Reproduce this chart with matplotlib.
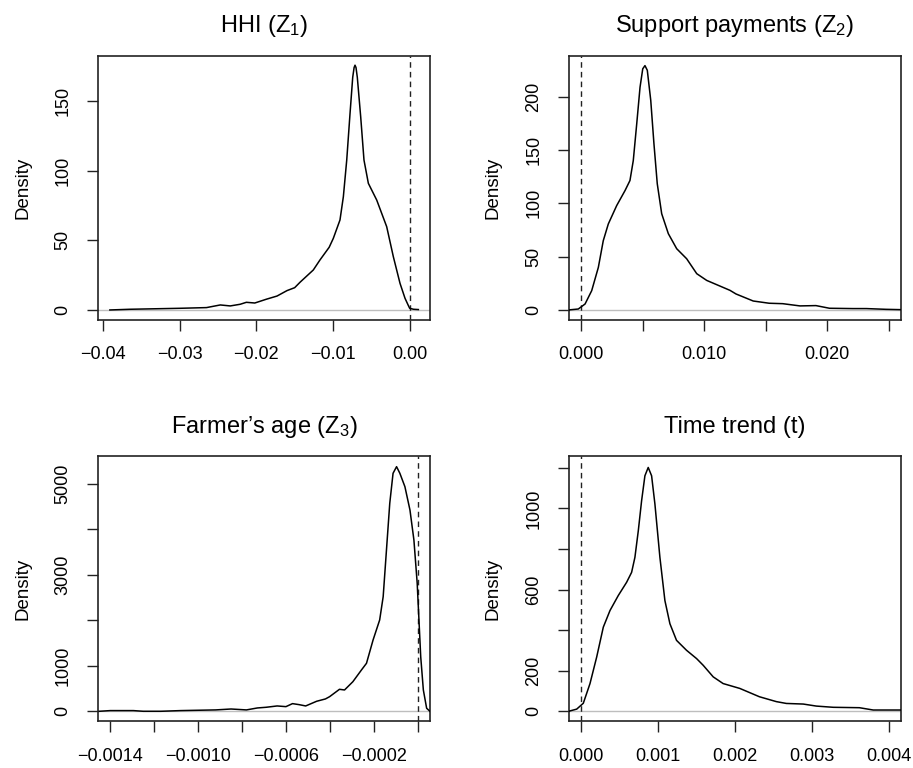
import numpy as np
import matplotlib
matplotlib.use("Agg")
import matplotlib.pyplot as plt

plt.rcParams['font.family'] = ['Liberation Sans', 'DejaVu Sans']
plt.rcParams['mathtext.fontset'] = 'custom'
plt.rcParams['mathtext.rm'] = 'Liberation Sans'
plt.rcParams['mathtext.it'] = 'Liberation Sans:italic'

# ---- data ----
titles = ["HHI (Z$_1$)", "Support payments (Z$_2$)", "Farmer\u2019s age (Z$_3$)", "Time trend (t)"]

hhi_x = [-0.0391, -0.0365, -0.0300, -0.0265, -0.0247, -0.0234, -0.0221, -0.0213, -0.0202, -0.0187,
         -0.0173, -0.0160, -0.0150, -0.0143, -0.01257, -0.0117, -0.01050, -0.00996, -0.00909, -0.00865,
         -0.00821, -0.00778, -0.00743, -0.00725, -0.00713, -0.00700, -0.00683, -0.00639, -0.00596, -0.00539,
         -0.0043, -0.0030, -0.00213, -0.00126, -0.00061, -0.00020, 0.0000, 0.00050, 0.00113]
hhi_y = [0, 0.5, 1.2, 1.7, 3.6, 2.9, 4.1, 5.5, 5.0, 7.7,
         10, 13.9, 16.0, 19.9, 28.7, 35.9, 45.0, 51.4, 64.6, 81.3,
         107.6, 141, 167, 174, 175.7, 174, 167, 138.7, 107.6, 90.9,
         78.9, 59.8, 38.2, 19.1, 8.4, 3.5, 1.2, 0.5, 0.3]

sup_x = [-0.00103, -0.00022, 0.00033, 0.00087, 0.00141, 0.00181, 0.00222, 0.0029, 0.00358, 0.00398,
         0.00425, 0.00453, 0.0048, 0.00502, 0.0052, 0.00539, 0.00567, 0.00593, 0.0062, 0.00656,
         0.0071, 0.00778, 0.00859, 0.00941, 0.01022, 0.01211, 0.0126, 0.0140,
         0.0153, 0.0164, 0.0178, 0.0191, 0.0202, 0.0221, 0.0232, 0.0248, 0.0260]
sup_y = [0, 0.9, 5.6, 18.1, 39.9, 64.9, 80.6, 97.8, 111.9, 121.3,
         140, 174.4, 208.8, 226, 229, 224.6, 196.5, 155.8, 118.3, 90.2,
         71.5, 57.4, 48, 34, 27.7, 18.4, 15, 8.4,
         6.3, 5.9, 3.8, 4.1, 1.6, 1.3, 1.3, 0.6, 0.3]

age_x = [-0.00145, -0.00140, -0.001295, -0.00125, -0.00117, -0.00108, -0.00092, -0.00085, -0.00078, -0.00073,
         -0.00069, -0.00064, -0.00060, -0.00057, -0.00054, -0.00051, -0.00046, -0.00042, -0.000401, -0.000356,
         -0.000333, -0.000295, -0.000256, -0.000233, -0.000203, -0.000173, -0.000157, -0.000142, -0.000127, -0.000112,
         -0.000096, -0.000081, -0.000058, -0.000035, -0.000017, -0.000002, 0.000014, 0.000026, 0.000041, 0.000056]
age_y = [0, 15, 15, 0, 0, 15, 30, 50, 30, 73,
         88, 117, 102, 168, 146, 117, 220, 271, 321, 483,
         468, 650, 907, 1054, 1566, 2005, 2517, 3543, 4568, 5227,
         5372, 5227, 4933, 4421, 3762, 2811, 1199, 468, 66, 0]

time_x = [-0.000165, -0.000056, 0.00003, 0.000117, 0.000204, 0.00029, 0.000377, 0.000485, 0.000593, 0.000658,
          0.000701, 0.000745, 0.000788, 0.000831, 0.000874, 0.000918, 0.000961, 0.001026, 0.001091, 0.001156,
          0.001242, 0.001372, 0.001503, 0.001589, 0.001719, 0.001848, 0.002065, 0.00232, 0.00254, 0.00267,
          0.00289, 0.00306, 0.00328, 0.00362, 0.0038, 0.00397, 0.00417]
time_y = [0, 11, 40, 137, 268, 415, 497, 571, 636, 685,
          759, 890, 1038, 1161, 1202, 1161, 1022, 759, 546, 432,
          350, 301, 260, 227, 170, 137, 113, 72, 48, 39,
          36, 26, 20, 18, 6.6, 6.6, 6.6]

xs = [hhi_x, sup_x, age_x, time_x]
ys = [hhi_y, sup_y, age_y, time_y]

xlims = [(-0.04065, 0.00265), (-0.0010, 0.02604), (-0.001456, 0.0000563), (-0.00016, 0.004165)]
ylims = [(-7.2, 182.3), (-9.4, 238), (-220, 5600), (-49, 1257)]

xtick_vals = [[-0.04, -0.03, -0.02, -0.01, 0.0],
              [0.0, 0.005, 0.010, 0.015, 0.020, 0.025],
              [-0.0014, -0.0012, -0.0010, -0.0008, -0.0006, -0.0004, -0.0002, 0.0],
              [0.000, 0.001, 0.002, 0.003, 0.004]]
xtick_labs = [["\u22120.04", "\u22120.03", "\u22120.02", "\u22120.01", "0.00"],
              ["0.000", "", "0.010", "", "0.020", ""],
              ["\u22120.0014", "", "\u22120.0010", "", "\u22120.0006", "", "\u22120.0002", ""],
              ["0.000", "0.001", "0.002", "0.003", "0.004"]]
ytick_vals = [[0, 50, 100, 150],
              [0, 50, 100, 150, 200],
              [0, 1000, 2000, 3000, 4000, 5000],
              [0, 200, 400, 600, 800, 1000, 1200]]
ytick_labs = [["0", "50", "100", "150"],
              ["0", "50", "100", "150", "200"],
              ["0", "1000", "", "3000", "", "5000"],
              ["0", "200", "", "600", "", "1000", ""]]

W, H = 913, 768
fig = plt.figure(figsize=(W / 100, H / 100), dpi=100)
boxes = [(98, 56, 430, 320), (568.7, 56, 901.3, 320),
         (98, 456.3, 430, 721.3), (568.7, 456.3, 901.3, 721.3)]

for i in range(4):
    l, t, r, b = boxes[i]
    ax = fig.add_axes([l / W, 1 - b / H, (r - l) / W, (b - t) / H])
    ax.axhline(0, color="#bebebe", lw=1.0, zorder=1)
    ax.axvline(0, color="#222222", lw=1.0, ls=(0, (4, 3)), zorder=2)
    ax.plot(xs[i], ys[i], color="black", lw=1.1, zorder=3, solid_joinstyle="round")
    ax.set_xlim(*xlims[i])
    ax.set_ylim(*ylims[i])
    ax.set_xticks(xtick_vals[i])
    ax.set_xticklabels(xtick_labs[i])
    ax.set_yticks(ytick_vals[i])
    ax.set_yticklabels(ytick_labs[i], rotation=90, va="center")
    ax.tick_params(axis="both", length=8, width=1.0, labelsize=13, pad=11, color="#222222")
    for s in ax.spines.values():
        s.set_linewidth(1.2)
        s.set_color("#222222")
    ax.set_ylabel("Density", fontsize=13.5, labelpad=17)
    ax.set_title(titles[i], fontsize=17, pad=17)

fig.savefig("out.png", dpi=100)
